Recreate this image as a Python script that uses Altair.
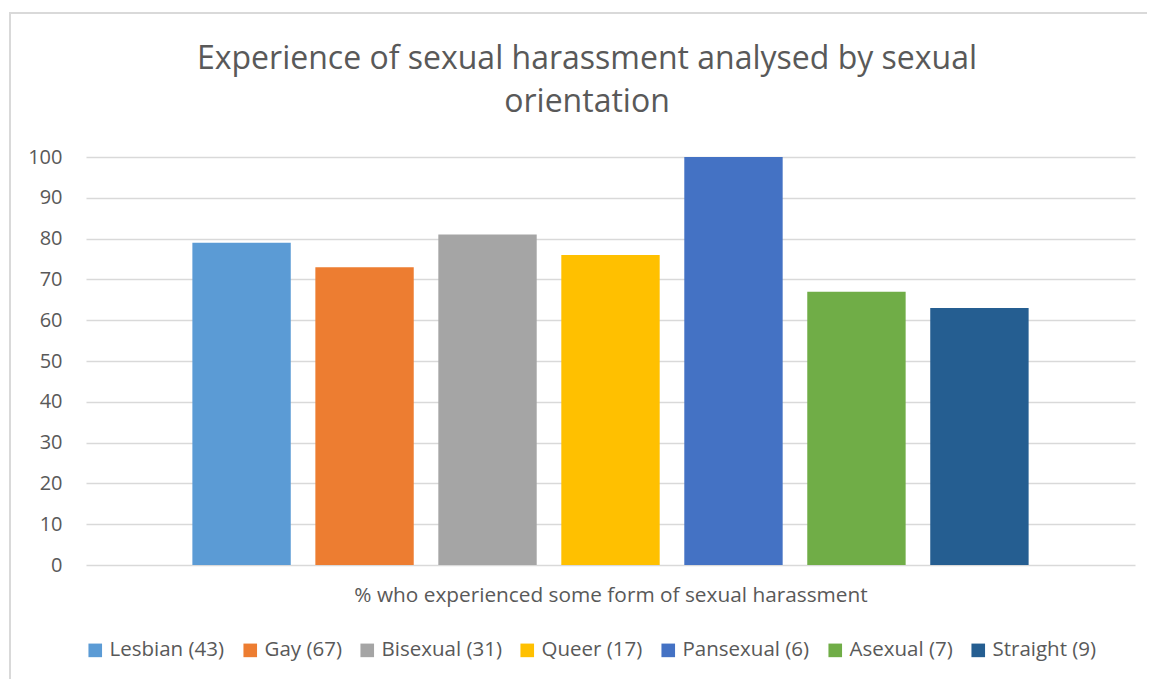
import altair as alt
import pandas as pd

groups = ["Lesbian (43)", "Gay (67)", "Bisexual (31)", "Queer (17)",
          "Pansexual (6)", "Asexual (7)", "Straight (9)"]
values = [79, 73, 81, 76, 100, 67, 63]
colors = ["#5B9BD5", "#ED7D31", "#A5A5A5", "#FFC000", "#4472C4", "#70AD47", "#255E91"]
y_ticks = [0, 10, 20, 30, 40, 50, 60, 70, 80, 90, 100]
title_lines = ["Experience of sexual harassment analysed by sexual", "orientation"]
x_title = "% who experienced some form of sexual harassment"

df = pd.DataFrame({"group": groups, "value": values})

FONT = "Open Sans"
TXT = "#595959"

bars = alt.Chart(df).mark_bar().encode(
    x=alt.X("group:N", sort=groups,
            scale=alt.Scale(paddingInner=0.2, paddingOuter=0.865),
            axis=alt.Axis(labels=False, ticks=False, domain=False,
                          title=x_title,
                          titleFont=FONT, titleFontSize=20.8, titleFontWeight="normal",
                          titleColor=TXT, titlePadding=20)),
    y=alt.Y("value:Q", scale=alt.Scale(domain=[0, 100], nice=False),
            axis=alt.Axis(values=y_ticks, title=None, ticks=False, domain=False,
                          labelFont=FONT, labelFontSize=20, labelColor=TXT,
                          labelPadding=24, gridColor="#D9D9D9", gridWidth=1.5)),
    color=alt.Color("group:N", sort=groups,
                    scale=alt.Scale(domain=groups, range=colors),
                    legend=alt.Legend(title=None, orient="none", direction="horizontal",
                                      legendX=-1, legendY=483,
                                      symbolType="square", symbolSize=185,
                                      symbolStrokeWidth=0, symbolOpacity=1,
                                      labelFont=FONT, labelFontSize=20.5, labelColor=TXT,
                                      labelOffset=4, columnPadding=15)),
)

one = pd.DataFrame({"a": [0]})

border = alt.Chart(one).mark_rect(
    fill=None, stroke="#D9D9D9", strokeWidth=2
).encode(
    x=alt.value(-76), x2=alt.value(1080), y=alt.value(-144), y2=alt.value(560)
)

title = alt.Chart(one).mark_text(
    text=title_lines, font=FONT, fontSize=32, color=TXT,
    align="center", baseline="alphabetic", lineHeight=43
).encode(x=alt.value(501), y=alt.value(-88))

chart = alt.layer(border, title, bars).properties(
    width=1049, height=408,
    autosize=alt.AutoSizeParams(type="none"),
    padding={"left": 78, "top": 149, "right": 12, "bottom": 114},
).configure_view(stroke=None)

chart.save("out.html", embed_options={"renderer": "svg", "actions": False})
